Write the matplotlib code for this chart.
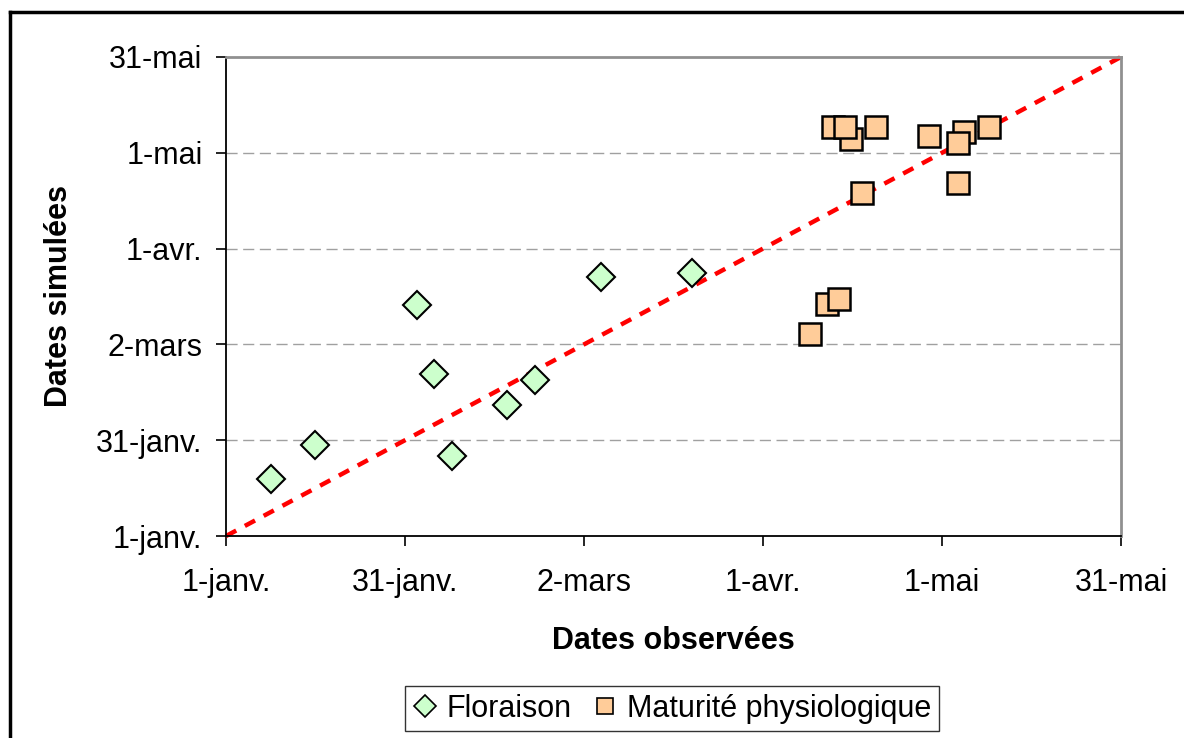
import numpy as np
from matplotlib import pyplot as plt
from matplotlib.lines import Line2D

# jours depuis le 1er janvier
flo_obs = [7.5, 14.9, 32.0, 34.9, 37.9, 47.1, 51.8, 62.8, 78.1]
flo_sim = [17.9, 28.5, 72.3, 50.7, 25.1, 41.0, 48.9, 81.1, 82.4]

mat_obs = [101.8, 104.7, 103.7, 108.9, 117.8, 123.7, 122.7, 127.9, 122.7, 106.6, 100.8, 102.8, 97.8]
mat_sim = [128.2, 124.4, 128.2, 128.2, 125.1, 126.4, 123.2, 128.2, 110.5, 107.3, 72.6, 74.2, 63.2]

bissectrice = [0, 150]

tick_pos = [0, 30, 60, 90, 120, 150]
tick_lab = ['1-janv.', '31-janv.', '2-mars', '1-avr.', '1-mai', '31-mai']

plt.rcParams['font.family'] = ['Liberation Sans', 'DejaVu Sans']

fig = plt.figure(figsize=(11.84, 7.38), dpi=100)
ax = fig.add_axes([0.1909, 0.2737, 0.7559, 0.6491])

ax.plot(bissectrice, bissectrice, color='red', lw=3.2, linestyle=(0, (2.6, 2.2)),
        zorder=2, clip_on=False)

ax.plot(flo_obs, flo_sim, 'D', ms=14, mfc='#CCFFCC', mec='black', mew=1.5,
        linestyle='none', zorder=3, label='Floraison')
for xo, yo in zip(mat_obs, mat_sim):
    ax.plot(xo, yo, 's', ms=15.5, mfc='#FFCC99', mec='black', mew=1.8,
            linestyle='none', zorder=3)

ax.set_xlim(0, 150)
ax.set_ylim(0, 150)
ax.set_xticks(tick_pos)
ax.set_xticklabels(tick_lab)
ax.set_yticks(tick_pos)
ax.set_yticklabels(tick_lab)
ax.tick_params(axis='both', labelsize=22, length=7, width=1.2, direction='out')
ax.tick_params(axis='x', pad=16)
ax.tick_params(axis='y', pad=10)

for y in tick_pos[1:-1]:
    ax.axhline(y, color='#a0a0a0', lw=1, linestyle=(0, (8, 4)), zorder=1)

ax.spines['left'].set_color('black')
ax.spines['bottom'].set_color('black')
ax.spines['left'].set_linewidth(1.3)
ax.spines['bottom'].set_linewidth(1.3)
ax.spines['top'].set_color('#909090')
ax.spines['right'].set_color('#909090')
ax.spines['top'].set_linewidth(2)
ax.spines['right'].set_linewidth(2)

ax.set_xlabel('Dates observées', fontsize=22, fontweight='bold', labelpad=20)
ax.set_ylabel('Dates simulées', fontsize=22, fontweight='bold', labelpad=16)

handles = [
    Line2D([], [], marker='D', ms=11, mfc='#CCFFCC', mec='black', mew=1.2, linestyle='none'),
    Line2D([], [], marker='s', ms=12, mfc='#FFCC99', mec='black', mew=1.2, linestyle='none'),
]
leg = fig.legend(handles, ['Floraison', 'Maturité physiologique'], loc='upper center',
                 bbox_to_anchor=(0.5676, 0.0705), ncol=2, fontsize=22, frameon=True,
                 fancybox=False, edgecolor='black', handlelength=0.8, handletextpad=0.3,
                 columnspacing=0.7, borderpad=0.25, borderaxespad=0)
leg.get_frame().set_linewidth(1.0)

# cadre de la figure
fig.add_artist(Line2D([0.0085, 0.0085], [0, 0.984], color='black', lw=2.5, transform=fig.transFigure))
fig.add_artist(Line2D([0.0085, 1.0], [0.984, 0.984], color='black', lw=2.5, transform=fig.transFigure))

plt.savefig('out.png', dpi=100)
